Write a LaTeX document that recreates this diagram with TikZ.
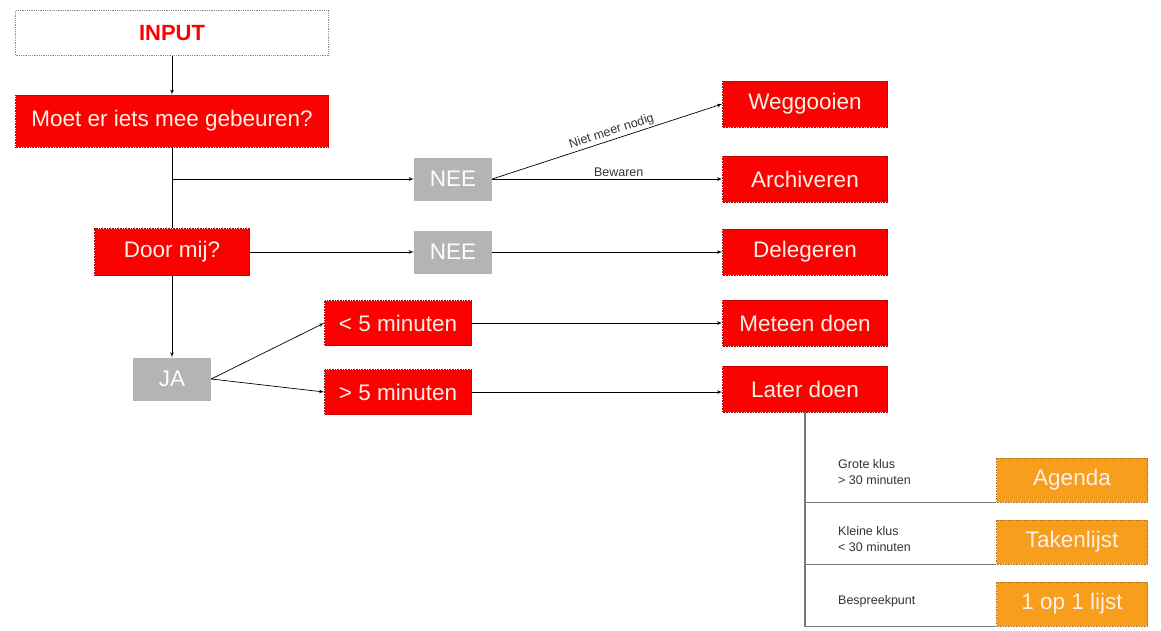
\documentclass[tikz,border=0pt]{standalone}
\usepackage{fontspec}
\setmainfont{Liberation Sans}
\usetikzlibrary{arrows,calc}

\definecolor{vuurrood}{RGB}{250,2,2}
\definecolor{grijsvak}{RGB}{180,180,180}
\definecolor{oranje}{RGB}{247,158,28}
\definecolor{tekstwit}{RGB}{255,238,228}
\definecolor{lijngrijs}{RGB}{120,120,120}

\begin{document}
\begin{tikzpicture}[x=1pt,y=-1pt]

\tikzset{box/.style = {shape=rectangle, inner sep=0pt, font=\fontsize{22.5}{26}\selectfont}}
\tikzset{rood/.style = {box, fill=vuurrood, draw=vuurrood!70!black, densely dotted, line width=0.6pt, text=tekstwit, minimum width=165pt, minimum height=46pt}}
\tikzset{grijs/.style = {box, fill=grijsvak, text=white, minimum width=78pt, minimum height=43pt}}
\tikzset{oranjevak/.style = {box, fill=oranje, draw=oranje!75!black, densely dotted, line width=0.6pt, text=tekstwit, minimum width=151pt, minimum height=44pt}}
\tikzset{edge/.style = {->,> = latex', line width=0.7pt}}
\tikzset{tak/.style = {draw=lijngrijs, line width=1.6pt}}
\tikzset{klein/.style = {font=\fontsize{12.5}{16}\selectfont, text=black!80, inner sep=2pt}}

\useasboundingbox (0,0) rectangle (1161,630);

% linkerkolom
\node[box, draw=black!45, densely dotted, line width=0.8pt, minimum width=313pt, minimum height=45pt,
      text=vuurrood, font=\fontsize{22}{26}\selectfont\bfseries] (input) at (172,33) {INPUT};
\node[rood, minimum width=313pt, minimum height=52pt] (moet) at (172,121) {Moet er iets mee gebeuren?};
\node[rood, minimum width=155pt, minimum height=47pt] (door) at (172,252) {Door mij?};
\node[grijs] (ja) at (172,379) {JA};

% middenkolom
\node[grijs] (nee1) at (453,179) {NEE};
\node[grijs] (nee2) at (453,252) {NEE};
\node[rood, minimum width=147pt, minimum height=45pt] (kort) at (398,323) {< 5 minuten};
\node[rood, minimum width=147pt, minimum height=45pt] (lang) at (398,392) {> 5 minuten};

% rechterkolom
\foreach \pos/\name/\tekst in {{(805,104)/weg/Weggooien}, {(805,179)/archief/Archiveren},
  {(805,252)/deleg/Delegeren}, {(805,323)/meteen/Meteen doen}, {(805,389)/later/Later doen}}
\node[rood] (\name) at \pos {\tekst};

\foreach \pos/\name/\tekst in {{(1072,480)/agenda/Agenda}, {(1072,542)/taken/Takenlijst},
  {(1072,604)/lijst/1 op 1 lijst}}
\node[oranjevak] (\name) at \pos {\tekst};

% verbindingen
\coordinate (splits) at (172,179);
\draw[edge] (input) -- (moet);
\draw[line width=0.7pt] (moet) -- (door);
\draw[edge] (splits) -- (nee1);
\draw[edge] (door) -- (ja);

\draw[edge] (nee1.east) -- node[klein, sloped, above, pos=0.53] {Niet meer nodig} (weg.west);
\draw[edge] (nee1.east) -- node[klein, above, pos=0.55] {Bewaren} (archief.west);

\foreach \from/\to in {door/nee2, nee2/deleg, kort/meteen}
\draw[edge] (\from) -- (\to);
\draw[edge] (lang.east) -- (lang.east -| later.west);

\draw[edge] (ja.east) -- (kort.west);
\draw[edge] (ja.east) -- (lang.west);

% vertakking later doen
\coordinate (stam) at (805,627);
\draw[tak] (later) -- (stam);
\draw[tak] (agenda.south west -| later.south) -- (agenda.south west);
\draw[tak] (taken.south west -| later.south) -- (taken.south west);
\draw[tak] (lijst.south west -| later.south) -- (lijst.south west);

\node[klein, anchor=west, align=left] (groot) at (836,472) {Grote klus\\> 30 minuten};
\node[klein, anchor=west, align=left] (kleinklus) at (836,539) {Kleine klus\\< 30 minuten};
\node[klein, anchor=west] (bespreek) at (836,601) {Bespreekpunt};

\end{tikzpicture}
\end{document}
